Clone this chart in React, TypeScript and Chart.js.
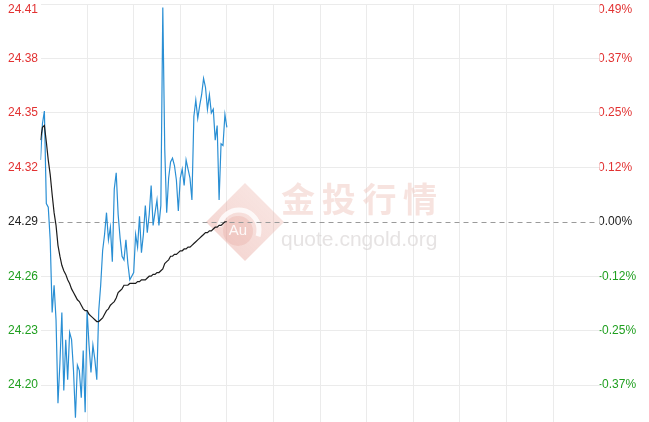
import React, { useEffect, useRef } from 'react';
import { Chart, registerables } from 'chart.js';

Chart.register(...registerables);

// ---- data ----
const BASE_PRICE = 24.29;
const AXIS_MIN = 24.17;
const AXIS_MAX = 24.41;
const priceTicks = [24.2, 24.23, 24.26, 24.29, 24.32, 24.35, 24.38, 24.41];
const priceLabels = ['24.20', '24.23', '24.26', '24.29', '24.32', '24.35', '24.38', '24.41'];
const pctLabels = ['-0.37%', '-0.25%', '-0.12%', '0.00%', '0.12%', '0.25%', '0.37%', '0.49%'];
const timeGrid = [0, 24, 48, 72, 96, 120, 144, 168, 192, 216, 240, 264, 288];

const prices = [
  24.324, 24.344, 24.351, 24.300, 24.298, 24.280, 24.240, 24.255, 24.236, 24.190,
  24.212, 24.240, 24.197, 24.225, 24.203, 24.229, 24.225, 24.208, 24.182, 24.211,
  24.208, 24.193, 24.219, 24.185, 24.241, 24.222, 24.207, 24.222, 24.214, 24.203,
  24.241, 24.255, 24.274, 24.283, 24.295, 24.280, 24.287, 24.268, 24.308, 24.317,
  24.294, 24.281, 24.271, 24.269, 24.280, 24.267, 24.258, 24.260, 24.262, 24.283,
  24.276, 24.293, 24.273, 24.283, 24.299, 24.284, 24.294, 24.310, 24.288, 24.295,
  24.302, 24.288, 24.299, 24.408, 24.330, 24.295, 24.314, 24.323, 24.325, 24.321,
  24.313, 24.296, 24.314, 24.319, 24.310, 24.324, 24.319, 24.314, 24.302, 24.348,
  24.357, 24.347, 24.354, 24.360, 24.369, 24.364, 24.352, 24.360, 24.350, 24.352,
  24.335, 24.343, 24.302, 24.333, 24.332, 24.349, 24.342,
];

const averages = [
  24.335, 24.342, 24.343, 24.334, 24.324, 24.316, 24.305, 24.295, 24.288, 24.277,
  24.271, 24.266, 24.263, 24.261, 24.258, 24.256, 24.253, 24.251, 24.249, 24.247,
  24.246, 24.244, 24.242, 24.241, 24.241, 24.239, 24.238, 24.237, 24.236, 24.235,
  24.235, 24.236, 24.237, 24.239, 24.241, 24.242, 24.244, 24.245, 24.246, 24.248,
  24.251, 24.252, 24.253, 24.255, 24.255, 24.255, 24.256, 24.256, 24.256, 24.256,
  24.257, 24.257, 24.258, 24.258, 24.258, 24.259, 24.260, 24.260, 24.261, 24.261,
  24.262, 24.262, 24.263, 24.264, 24.267, 24.268, 24.269, 24.271, 24.271, 24.272,
  24.272, 24.273, 24.274, 24.274, 24.275, 24.275, 24.276, 24.276, 24.277, 24.278,
  24.279, 24.280, 24.281, 24.282, 24.283, 24.284, 24.284, 24.285, 24.285, 24.286,
  24.287, 24.287, 24.288, 24.288, 24.289, 24.290, 24.290,
];

const RED = '#e23232';
const GREEN = '#1f9f1f';
const DARK = '#222222';
const GRID = '#ebebeb';
const FONT = "Arial, 'Liberation Sans', sans-serif";

const labelColor = (ctx: any) => {
  const v = ctx.tick ? ctx.tick.value : BASE_PRICE;
  if (v > BASE_PRICE + 1e-6) return RED;
  if (v < BASE_PRICE - 1e-6) return GREEN;
  return DARK;
};

const tickFont = (ctx: any) => ({
  family: FONT,
  size: 12,
  lineHeight: ctx.tick && Math.abs(ctx.tick.value - AXIS_MAX) < 1e-6 ? 1 : 1.2,
});

const labelFor = (list: string[]) => (value: any, index: number) => {
  const text = list[index];
  if (Math.abs(Number(value) - AXIS_MAX) < 1e-6) return ['', text];
  return text;
};

const zeroPadding = (s: any) => {
  s.paddingTop = 0;
  s.paddingBottom = 0;
  s.paddingLeft = 0;
  s.paddingRight = 0;
};

const watermarkPlugin = {
  id: 'watermark',
  beforeDatasetsDraw(chart: any) {
    const { ctx } = chart;
    const cx = 245;
    const cy = 222;
    const r = 39;
    ctx.save();
    // diamond
    const grad = ctx.createLinearGradient(cx - r, cy + r, cx + r, cy - r);
    grad.addColorStop(0, 'rgba(226,145,135,0.42)');
    grad.addColorStop(1, 'rgba(236,180,170,0.30)');
    ctx.fillStyle = grad;
    ctx.beginPath();
    ctx.moveTo(cx, cy - r);
    ctx.lineTo(cx + r, cy);
    ctx.lineTo(cx, cy + r);
    ctx.lineTo(cx - r, cy);
    ctx.closePath();
    ctx.fill();
    // swoosh
    ctx.strokeStyle = 'rgba(255,255,255,0.8)';
    ctx.lineWidth = 5;
    ctx.beginPath();
    ctx.arc(cx - 6, cy + 8, 20, -Math.PI * 0.95, Math.PI * 0.1);
    ctx.stroke();
    ctx.fillStyle = 'rgba(222,140,130,0.22)';
    ctx.beginPath();
    ctx.arc(cx - 7, cy + 9, 15, 0, Math.PI * 2);
    ctx.fill();
    ctx.fillStyle = 'rgba(255,255,255,0.9)';
    ctx.font = `15px ${FONT}`;
    ctx.textAlign = 'center';
    ctx.textBaseline = 'middle';
    ctx.fillText('Au', cx - 7, cy + 9);
    // chinese title
    ctx.fillStyle = 'rgba(238,192,185,0.45)';
    ctx.font = "bold 34px 'Noto Sans CJK SC', sans-serif";
    const title = '金投行情';
    for (let k = 0; k < title.length; k++) {
      ctx.fillText(title[k], 298 + k * 40.7, 199);
    }
    // url
    ctx.fillStyle = 'rgba(205,200,200,0.5)';
    ctx.font = `21px ${FONT}`;
    ctx.textAlign = 'left';
    ctx.textBaseline = 'alphabetic';
    ctx.fillText('quote.cngold.org', 281, 246);
    ctx.restore();
  },
};

const baselinePlugin = {
  id: 'baseline',
  beforeDatasetsDraw(chart: any) {
    const { ctx, chartArea, scales } = chart;
    const y = Math.round(scales.y.getPixelForValue(BASE_PRICE)) + 0.5;
    ctx.save();
    ctx.strokeStyle = '#9a9a9a';
    ctx.lineWidth = 1;
    ctx.setLineDash([5, 4]);
    ctx.beginPath();
    ctx.moveTo(chartArea.left, y);
    ctx.lineTo(chartArea.right - 2, y);
    ctx.stroke();
    ctx.restore();
  },
};

export default function App() {
  const canvasRef = useRef<HTMLCanvasElement | null>(null);

  useEffect(() => {
    const canvas = canvasRef.current;
    if (!canvas) return;
    const chart = new Chart(canvas, {
      type: 'line',
      data: {
        datasets: [
          {
            data: averages.map((v, i) => ({ x: i, y: v })),
            borderColor: '#1c1c1c',
            borderWidth: 1.2,
            pointRadius: 0,
            tension: 0,
            yAxisID: 'y',
            order: 1,
          },
          {
            data: prices.map((v, i) => ({ x: i, y: v })),
            borderColor: '#2a8fd4',
            borderWidth: 1.2,
            pointRadius: 0,
            tension: 0,
            yAxisID: 'y',
            order: 2,
          },
        ],
      },
      options: {
        animation: false,
        responsive: false,
        events: [],
        layout: { padding: { left: 8, top: 4, right: 0, bottom: 4.5 } },
        plugins: { legend: { display: false }, tooltip: { enabled: false } },
        scales: {
          x: {
            type: 'linear',
            min: 0,
            max: timeGrid[timeGrid.length - 1],
            afterBuildTicks: (s: any) => {
              s.ticks = timeGrid.map((v) => ({ value: v }));
            },
            afterFit: (s: any) => {
              s.height = 0;
              zeroPadding(s);
            },
            ticks: { display: false },
            grid: {
              drawTicks: false,
              color: (ctx: any) =>
                ctx.tick && (ctx.tick.value === timeGrid[0] || ctx.tick.value === timeGrid[timeGrid.length - 1])
                  ? 'rgba(0,0,0,0)'
                  : GRID,
            },
            border: { display: false },
          },
          y: {
            type: 'linear',
            position: 'left',
            min: AXIS_MIN,
            max: AXIS_MAX,
            afterBuildTicks: (s: any) => {
              s.ticks = priceTicks.map((v) => ({ value: v }));
            },
            afterFit: (s: any) => {
              s.width = 32.5;
              zeroPadding(s);
            },
            ticks: {
              crossAlign: 'far',
              padding: 0,
              color: labelColor,
              font: tickFont,
              callback: labelFor(priceLabels),
            },
            grid: {
              drawTicks: false,
              color: (ctx: any) =>
                ctx.tick && Math.abs(ctx.tick.value - BASE_PRICE) < 1e-6 ? 'rgba(0,0,0,0)' : GRID,
            },
            border: { display: false },
          },
          y2: {
            type: 'linear',
            position: 'right',
            min: AXIS_MIN,
            max: AXIS_MAX,
            afterBuildTicks: (s: any) => {
              s.ticks = priceTicks.map((v) => ({ value: v }));
            },
            afterFit: (s: any) => {
              s.width = 49.4;
              zeroPadding(s);
            },
            ticks: {
              crossAlign: 'near',
              padding: -1.5,
              color: labelColor,
              font: tickFont,
              callback: labelFor(pctLabels),
            },
            grid: { drawOnChartArea: false, drawTicks: false },
            border: { display: false },
          },
        },
      } as any,
      plugins: [watermarkPlugin, baselinePlugin],
    });
    return () => chart.destroy();
  }, []);

  return (
    <div
      style={{
        position: 'fixed',
        left: 0,
        top: 0,
        width: 649,
        height: 422,
        overflow: 'hidden',
        background: '#ffffff',
      }}
    >
      <canvas ref={canvasRef} width={649} height={444} style={{ display: 'block', width: 649, height: 444 }} />
    </div>
  );
}
